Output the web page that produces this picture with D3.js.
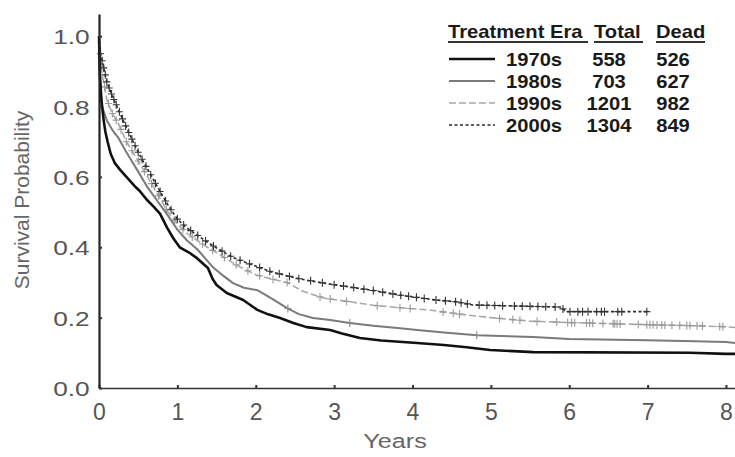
<!DOCTYPE html>
<html><head><meta charset="utf-8">
<script src="https://cdn.jsdelivr.net/npm/d3@7"></script>
<style>body{margin:0;background:#fff}svg{display:block}</style>
</head><body><svg id="c" width="735" height="457"></svg>
<script>
// ---- data ----
const xTicks = [0,1,2,3,4,5,6,7,8];
const yTicks = [0,0.2,0.4,0.6,0.8,1.0];
const yTickLabels = ["0.0","0.2","0.4","0.6","0.8","1.0"];
const eras = ["1970s","1980s","1990s","2000s"];
const totals = [558,703,1201,1304];
const deaths = [526,627,982,849];

// Kaplan-Meier curve points [years, survival]
const s1970 = [[0,1.0],[0.01,0.9],[0.03,0.82],[0.06,0.76],[0.08,0.73],[0.11,0.70],[0.15,0.665],[0.2,0.64],[0.27,0.62],[0.35,0.60],[0.45,0.575],[0.52,0.56],[0.61,0.535],[0.7,0.515],[0.78,0.495],[0.87,0.455],[0.95,0.425],[1.03,0.40],[1.15,0.385],[1.25,0.369],[1.39,0.341],[1.45,0.31],[1.5,0.293],[1.63,0.27],[1.84,0.25],[2.02,0.222],[2.15,0.21],[2.31,0.199],[2.48,0.185],[2.65,0.173],[2.95,0.165],[3.1,0.155],[3.33,0.142],[3.6,0.135],[4.06,0.128],[4.4,0.122],[4.69,0.116],[4.99,0.108],[5.54,0.102],[7.54,0.1],[8.0,0.097],[8.12,0.097]];
const s1980 = [[0,1.0],[0.01,0.88],[0.04,0.8],[0.1,0.76],[0.18,0.73],[0.25,0.71],[0.35,0.67],[0.5,0.615],[0.62,0.57],[0.75,0.53],[0.88,0.49],[1.0,0.45],[1.12,0.42],[1.25,0.395],[1.35,0.37],[1.45,0.344],[1.58,0.32],[1.71,0.298],[1.85,0.285],[2.02,0.278],[2.2,0.255],[2.4,0.227],[2.55,0.21],[2.73,0.199],[2.95,0.193],[3.2,0.185],[3.5,0.177],[3.84,0.17],[4.06,0.165],[4.4,0.158],[4.82,0.15],[5.54,0.145],[6.0,0.139],[6.99,0.136],[7.6,0.133],[8.0,0.131],[8.12,0.128]];
const s1990 = [[0,1.0],[0.02,0.93],[0.05,0.88],[0.1,0.82],[0.17,0.78],[0.25,0.75],[0.35,0.7],[0.5,0.645],[0.62,0.6],[0.75,0.55],[0.88,0.5],[1.0,0.465],[1.12,0.44],[1.25,0.42],[1.38,0.4],[1.5,0.385],[1.62,0.368],[1.75,0.35],[1.88,0.335],[2.0,0.322],[2.2,0.31],[2.4,0.30],[2.6,0.275],[2.86,0.256],[3.2,0.245],[3.5,0.235],[3.84,0.228],[4.2,0.222],[4.6,0.21],[5.0,0.2],[5.5,0.19],[6.0,0.186],[7.0,0.18],[7.6,0.177],[8.0,0.174],[8.12,0.172]];
const s2000 = [[0,1.0],[0.02,0.95],[0.05,0.92],[0.1,0.87],[0.17,0.83],[0.25,0.79],[0.35,0.74],[0.5,0.67],[0.6,0.63],[0.75,0.57],[0.88,0.52],[1.0,0.48],[1.12,0.455],[1.25,0.435],[1.38,0.415],[1.5,0.398],[1.7,0.372],[1.93,0.352],[2.2,0.33],[2.56,0.31],[2.9,0.297],[3.2,0.287],[3.5,0.277],[3.84,0.264],[4.3,0.25],[4.56,0.245],[4.77,0.236],[5.9,0.23],[5.95,0.217],[7.0,0.217]];

// censoring times (years)
const c1980 = [2.41,3.2,4.82];
const c1990 = [0.03,0.07,0.12,0.17,0.22,0.28,0.35,0.42,0.5,0.58,0.67,0.76,0.86,0.96,1.07,1.19,1.32,1.45,1.6,1.75,1.9,2.05,2.22,2.4,2.82,2.95,3.16,3.55,3.84,3.97,4.39,4.52,4.6,5.11,5.28,5.37,5.59,5.84,5.98,6.03,6.07,6.22,6.26,6.3,6.43,6.56,6.58,6.61,6.65,6.88,6.99,7.03,7.07,7.12,7.18,7.22,7.31,7.41,7.5,7.54,7.63,7.7,7.92,7.96];
const c2000 = [0.02,0.04,0.06,0.08,0.1,0.13,0.16,0.19,0.22,0.26,0.3,0.34,0.38,0.42,0.46,0.5,0.55,0.6,0.66,0.72,0.78,0.85,0.92,1.0,1.08,1.17,1.26,1.36,1.46,1.57,1.68,1.8,1.92,2.05,2.18,2.3,2.43,2.55,2.7,2.85,3.0,3.12,3.25,3.38,3.5,3.62,3.75,3.85,3.95,4.05,4.15,4.3,4.42,4.55,4.62,4.7,4.85,4.95,5.05,5.15,5.3,5.4,5.5,5.6,5.7,5.82,5.92,6.01,6.11,6.17,6.24,6.35,6.41,6.45,6.62,6.67,6.99];

// ---- styles ----
const seriesList = [
  {data:s1970, cens:[],    color:"#111", width:2.6, dash:null,  mark:"#111"},
  {data:s1980, cens:c1980, color:"#7a7a7a", width:2, dash:null, mark:"#888"},
  {data:s1990, cens:c1990, color:"#a8a8a8", width:1.6, dash:"7,3", mark:"#9a9a9a"},
  {data:s2000, cens:c2000, color:"#2a2a2a", width:1.6, dash:"3,2.5", mark:"#333"}
];

const svg = d3.select("#c");
const x = d3.scaleLinear().domain([0,8.115]).range([99,735]);
const y = d3.scaleLinear().domain([0,1.063]).range([388,14]);
const FONT = "'Liberation Sans', Arial, Helvetica, sans-serif";

const line = d3.line().x(d=>x(d[0])).y(d=>y(d[1])).curve(d3.curveLinear);
function valAt(data,t){
  for(let i=1;i<data.length;i++){
    if(data[i][0]>=t){ const a=data[i-1], b=data[i]; const f=(t-a[0])/(b[0]-a[0]); return a[1]+f*(b[1]-a[1]); }
  }
  return data[data.length-1][1];
}

[2,1,0,3].forEach(i=>{
  const s = seriesList[i];
  const g = svg.append("g");
  g.append("path").attr("d", line(s.data)).attr("fill","none")
    .attr("stroke", s.color).attr("stroke-width", s.width)
    .attr("stroke-dasharray", s.dash).attr("stroke-linejoin","round");
  g.selectAll("path.c").data(s.cens).enter().append("path").attr("class","c")
    .attr("d", t=>{ const px=x(t), py=y(valAt(s.data,t)); return `M${px-3.5},${py}H${px+3.5}M${px},${py-4}V${py+4}`; })
    .attr("stroke", s.mark).attr("stroke-width", 1.1).attr("fill","none");
});

// axes
const xAxis = svg.append("g").attr("transform",`translate(0,${y(0)})`)
  .call(d3.axisBottom(x).tickValues(xTicks).tickSizeInner(-3).tickSizeOuter(0).tickFormat(d3.format("d")));
xAxis.select(".domain").attr("stroke","#333").attr("stroke-width",1.6);
xAxis.selectAll(".tick line").attr("stroke","#333").attr("stroke-width",2);
xAxis.selectAll(".tick text").attr("y",32).attr("dy",0).attr("fill","#555")
  .style("font-family",FONT).style("font-size","23px");

const yAxis = svg.append("g").attr("transform",`translate(${x(0)},0)`)
  .call(d3.axisLeft(y).tickValues(yTicks).tickSizeInner(-3).tickSizeOuter(0).tickFormat((d,i)=>yTickLabels[i]));
yAxis.select(".domain").attr("stroke","#222").attr("stroke-width",2.2);
yAxis.selectAll(".tick line").attr("stroke","#333").attr("stroke-width",2);
yAxis.selectAll(".tick text").attr("x",-7.5).attr("dy","0.36em").attr("fill","#555")
  .attr("transform","scale(1.25,1)")
  .style("font-family",FONT).style("font-size","21px");

// axis titles
svg.append("text").attr("transform","translate(29,200) rotate(-90)")
  .attr("text-anchor","middle").attr("fill","#666")
  .style("font-family",FONT).style("font-size","21px").text("Survival Probability");
svg.append("text").attr("transform","translate(395,448) scale(1.2,1)")
  .attr("text-anchor","middle").attr("fill","#666")
  .style("font-family",FONT).style("font-size","21px").text("Years");

// legend
const lg = svg.append("g");
function ltext(tx,ty,str,anchor){
  return lg.append("text").attr("transform",`translate(${tx},${ty}) scale(1.12,1)`)
    .attr("text-anchor",anchor).attr("fill","#1a1a1a")
    .style("font-family",FONT).style("font-size","18px").style("font-weight","bold").text(str);
}
const headerY = 38;
ltext(448,headerY,"Treatment Era","start");
ltext(594,headerY,"Total","start");
ltext(656,headerY,"Dead","start");
[[448,588],[594,643],[656,705]].forEach(([a,b])=>{
  lg.append("line").attr("x1",a).attr("x2",b).attr("y1",headerY+4).attr("y2",headerY+4)
    .attr("stroke","#333").attr("stroke-width",1.8);
});
const rowY = [59,81,103,125];
eras.forEach((e,i)=>{
  const s = seriesList[i], ry = rowY[i];
  lg.append("line").attr("x1",449).attr("x2",495).attr("y1",ry).attr("y2",ry)
    .attr("stroke",s.color).attr("stroke-width",s.width).attr("stroke-dasharray",s.dash);
  ltext(506,ry+7,e,"start");
  ltext(609,ry+7,String(totals[i]),"middle");
  ltext(673,ry+7,String(deaths[i]),"middle");
});
</script></body></html>
